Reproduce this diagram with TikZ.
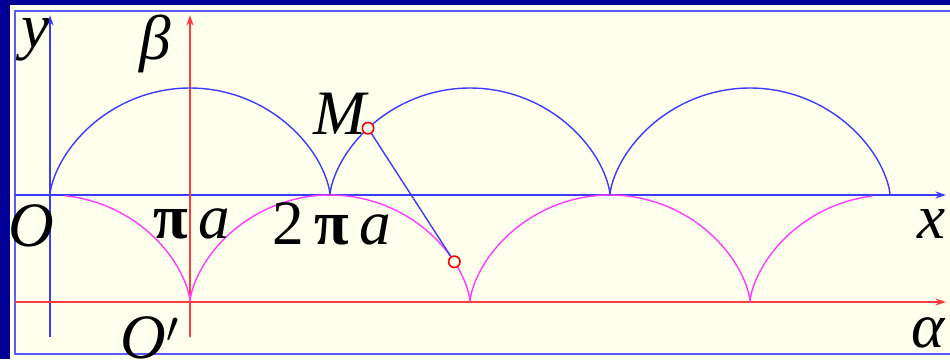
\documentclass[tikz,border=0pt]{standalone}
\usepackage{fontspec}
\setmainfont{Liberation Serif}
\usetikzlibrary{arrows.meta}
\definecolor{navy}{RGB}{0,0,153}
\definecolor{panel}{RGB}{255,255,238}
\definecolor{cycblue}{RGB}{60,60,255}
\definecolor{axred}{RGB}{255,60,60}
\definecolor{evmag}{RGB}{255,60,255}
\definecolor{framebl}{RGB}{90,90,255}

\begin{document}
\begin{tikzpicture}[
  x=0.02cm, y=-0.02cm,
  axis/.style={line width=1.1pt, -{Stealth[length=6pt,width=4pt]}},
  curve/.style={line width=0.8pt, samples=400, smooth},
  lbl/.style={font=\fontsize{36}{36}\selectfont\itshape, inner sep=0pt},
  pt/.style={circle, draw=red, line width=0.9pt, fill=panel, minimum size=6.5pt, inner sep=0pt}
]
% cycloid constants (pixels)
\def\ra{44.563}
\def\rb{53.5}
\def\tM{8.105}
\useasboundingbox (0,0) rectangle (950,359);
\fill[navy] (0,0) rectangle (950,359);
\fill[panel] (10,5) rectangle (950,359);
\draw[framebl, line width=1.2pt] (950,11) -- (15,11) -- (15,354) -- (950,354);

% axes
\draw[axis, cycblue] (15,195) -- (946,195);
\draw[axis, cycblue] (50,337) -- (50,15);
\draw[axis, axred] (15,302) -- (946,302);
\draw[axis, axred] (190,337) -- (190,15);

% cycloid and its evolute
\draw[curve, cycblue] plot[domain=0:6*pi] ({50+\ra*(\x-sin(\x r))},{195-\rb*(1-cos(\x r))});
\draw[curve, evmag] plot[domain=0.17:18.65] ({50+\ra*(\x+sin(\x r))},{195+\rb*(1-cos(\x r))});

% point M and centre of curvature
\coordinate (M) at ({50+\ra*(\tM-sin(\tM r))},{195-\rb*(1-cos(\tM r))});
\coordinate (C) at ({50+\ra*(\tM+sin(\tM r))},{195+\rb*(1-cos(\tM r))});
\draw[cycblue, line width=0.8pt] (M) -- (C);
\node[pt] (Mpt) at (M) {};
\node[pt] (Cpt) at (C) {};

% labels
\node[lbl] (ylbl) at (36,40) {y};
\node[lbl] (blbl) at (155,44) {β};
\node[lbl] (olbl) at (31,226) {O};
\node[lbl] (pia) at (192,224) {\upshape\bfseries π\,\mdseries\itshape a};
\node[lbl] (tpia) at (332,224) {\upshape 2\,{\bfseries π}\,\itshape a};
\node[lbl] (oplbl) at (150,338) {O$'$};
\node[lbl] (mlbl) at (340,114) {M};
\node[lbl] (xlbl) at (932,224) {x};
\node[lbl] (albl) at (928,333) {α};
\end{tikzpicture}
\end{document}
